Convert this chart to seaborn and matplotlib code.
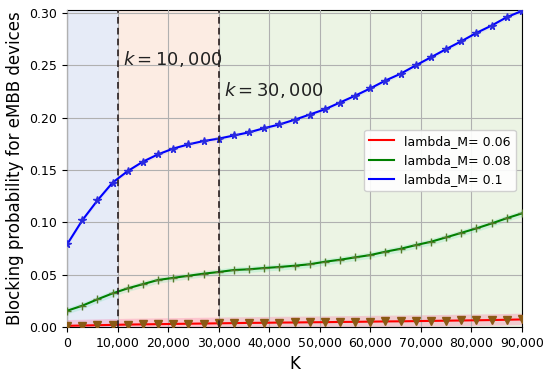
import numpy as np
import pandas as pd
import matplotlib
matplotlib.use("Agg")
import matplotlib.pyplot as plt
import matplotlib.ticker as mticker
import seaborn as sns

K = list(range(0, 90001, 3000))
red_vals = [0.0012, 0.0015, 0.0018, 0.0021, 0.0024, 0.0026, 0.0028, 0.0030, 0.0032, 0.0034,
            0.0036, 0.0038, 0.0040, 0.0041, 0.0043, 0.0044, 0.0046, 0.0047, 0.0049, 0.0050,
            0.0052, 0.0054, 0.0055, 0.0057, 0.0059, 0.0061, 0.0063, 0.0065, 0.0067, 0.0070, 0.0073]
green_vals = [0.0156, 0.0204, 0.0265, 0.0322, 0.0370, 0.0410, 0.0450, 0.0470, 0.0490, 0.0510,
              0.0526, 0.0545, 0.0552, 0.0564, 0.0574, 0.0586, 0.0600, 0.0624, 0.0643, 0.0666,
              0.0688, 0.0720, 0.0748, 0.0783, 0.0815, 0.0857, 0.0900, 0.0943, 0.0990, 0.1040, 0.1086]
blue_vals = [0.079, 0.102, 0.121, 0.138, 0.149, 0.158, 0.165, 0.1705, 0.1745, 0.1777,
             0.180, 0.183, 0.186, 0.190, 0.1935, 0.198, 0.203, 0.208, 0.2145, 0.221,
             0.228, 0.2355, 0.242, 0.250, 0.2577, 0.2655, 0.273, 0.281, 0.288, 0.296, 0.302]
labels = ["lambda_M= 0.06", "lambda_M= 0.08", "lambda_M= 0.1"]
line_colors = ["red", "green", "blue"]
marker_colors = ["#8a5a14", "#557a2a", "#2a2ae0"]
markers = ["v", "+", "*"]
x_ticks = list(range(0, 90001, 10000))
y_ticks = [0.00, 0.05, 0.10, 0.15, 0.20, 0.25, 0.30]
regions = [(0, 10000, "#e6ebf7"), (10000, 30000, "#fcece3"), (30000, 90000, "#ecf4e4")]
vlines = [10000, 30000]
annotations = [(11000, 0.25, "$k = 10,000$"), (31000, 0.221, "$k = 30,000$")]

series = [red_vals, green_vals, blue_vals]
df = pd.concat([pd.DataFrame({"K": K, "P": v, "label": l}) for v, l in zip(series, labels)])

fig = plt.figure(figsize=(5.5, 3.79), dpi=100)
ax = fig.add_axes([0.122, 0.137, 0.827, 0.837])

for x0, x1, c in regions:
    ax.axvspan(x0, x1, color=c, zorder=0, lw=0)

ax.grid(True, color="#b0b0b0", lw=0.8, zorder=1)
ax.set_axisbelow(False)

# bands
bands = [(0.005, 0.006, "#ff5090", 0.25), (0.003, 0.003, "#40e0a0", 0.18), (0.002, 0.002, "#8080ff", 0.12)]
for v, (lo, hi, c, a) in zip(series, bands):
    v = np.array(v)
    ax.fill_between(K, v - lo, v + hi, color=c, alpha=a, lw=0, zorder=2)

for lab, lc in zip(labels, line_colors):
    sns.lineplot(data=df[df["label"] == lab], x="K", y="P", color=lc, lw=1.5, ax=ax,
                 label=lab, zorder=3)
msizes = [6, 6, 5.5]
for v, mc, m, s in zip(series, marker_colors, markers, msizes):
    ax.plot(K, v, ls="none", marker=m, color=mc, ms=s, mew=1.0, zorder=4)

for xv in vlines:
    ax.axvline(xv, color="#2a1f1f", ls=(0, (4, 2.5)), lw=1.2, zorder=5)
for x, y, t in annotations:
    ax.text(x, y, t, fontsize=13, color="#222222", zorder=6)

ax.set_xlim(0, 90000)
ax.set_ylim(0, 0.303)
ax.set_xticks(x_ticks)
ax.set_yticks(y_ticks)
ax.xaxis.set_major_formatter(mticker.FuncFormatter(lambda v, p: f"{int(v):,}"))
ax.yaxis.set_major_formatter(mticker.FormatStrFormatter("%.2f"))
ax.tick_params(labelsize=9)
ax.set_xlabel("K", fontsize=12)
ax.set_ylabel("Blocking probability for eMBB devices", fontsize=12)
ax.legend(loc="center right", bbox_to_anchor=(1.0, 0.525), fontsize=9, framealpha=0.9)

fig.savefig("out.png", dpi=100)
